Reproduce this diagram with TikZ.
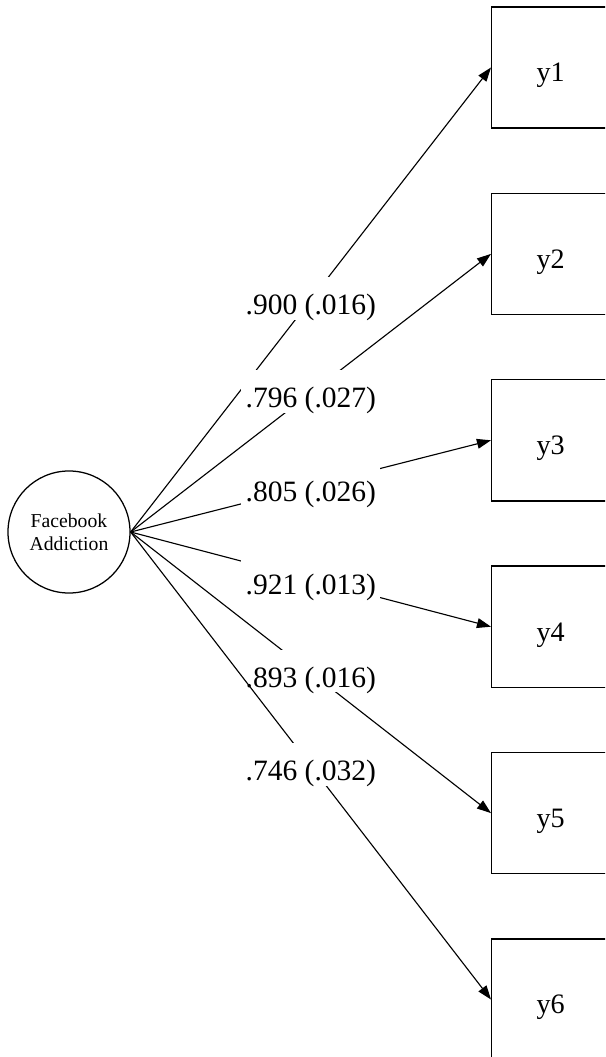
\documentclass[tikz,border=0pt]{standalone}
\usepackage{fontspec}
\setmainfont{Liberation Serif}
\usetikzlibrary{arrows.meta}

\begin{document}
\begin{tikzpicture}[x=0.025cm, y=-0.025cm,
    item/.style={draw, line width=1pt, minimum width=2.95cm, minimum height=3.025cm,
        anchor=west, text height=24pt, text depth=3.4pt, font=\fontsize{20}{24}\selectfont},
    factor/.style={draw, circle, line width=0.9pt, minimum size=3.05cm, inner sep=0pt,
        align=center, font=\fontsize{14}{16.5}\selectfont},
    load/.style={-{Triangle[length=10pt,width=7pt]}, line width=0.8pt},
    est/.style={fill=white, inner xsep=3pt, inner ysep=0pt, text height=27pt, text depth=3.5pt,
        anchor=base, yshift=-0.375cm, font=\fontsize{21}{25}\selectfont}]

    \useasboundingbox (0,0) rectangle (605,1057);
    \clip (0,0) rectangle (605,1057);

    % Latent factor
    \node[factor] (fa) at (69,532) {Facebook\\Addiction};

    % Indicators
    \node[item] (y1) at (491,67.5) {y1};
    \node[item] (y2) at (491,253.9) {y2};
    \node[item] (y3) at (491,440.3) {y3};
    \node[item] (y4) at (491,626.7) {y4};
    \node[item] (y5) at (491,813.1) {y5};
    \node[item] (y6) at (491,999.5) {y6};

    % Loadings (SE)
    \draw[load] (fa.east) -- node[est] {.900 (.016)} (y1.west);
    \draw[load] (fa.east) -- node[est] {.796 (.027)} (y2.west);
    \draw[load] (fa.east) -- node[est] {.805 (.026)} (y3.west);
    \draw[load] (fa.east) -- node[est] {.921 (.013)} (y4.west);
    \draw[load] (fa.east) -- node[est] {.893 (.016)} (y5.west);
    \draw[load] (fa.east) -- node[est] {.746 (.032)} (y6.west);
\end{tikzpicture}
\end{document}
